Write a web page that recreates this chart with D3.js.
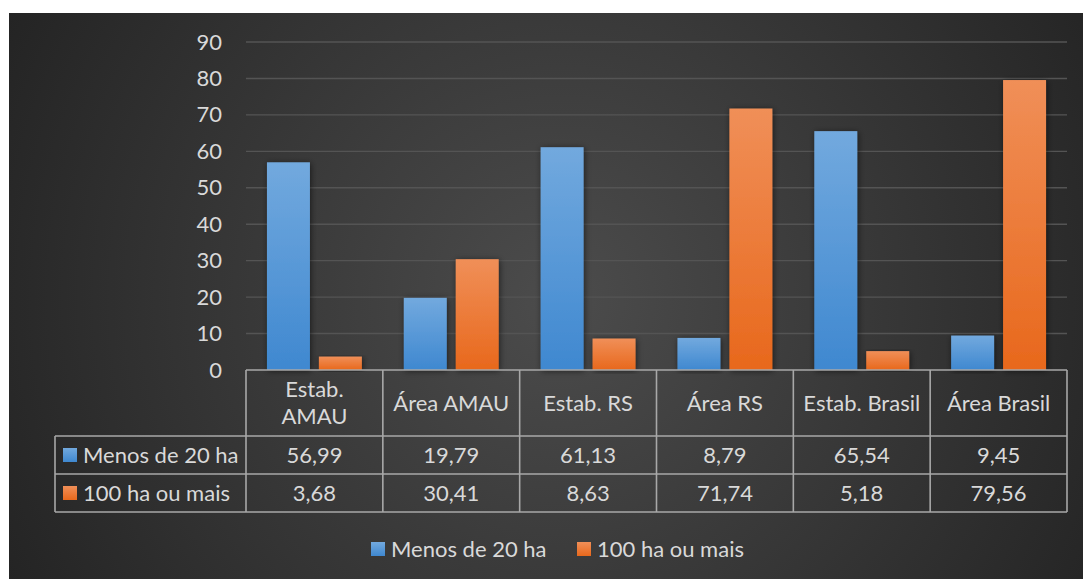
<!DOCTYPE html>
<html>
<head>
<meta charset="utf-8">
<script src="https://cdn.jsdelivr.net/npm/d3@7"></script>
<style>
  html, body { margin: 0; padding: 0; background: #fff; }
  svg { display: block; font-family: Lato, "Open Sans", sans-serif; }
</style>
</head>
<body>
<svg id="chart" width="1083" height="579"></svg>
<script>
var categories = [["Estab.", "AMAU"], ["Área AMAU"], ["Estab. RS"], ["Área RS"], ["Estab. Brasil"], ["Área Brasil"]]
var seriesNames = ["Menos de 20 ha", "100 ha ou mais"]
var menos20 = [56.99, 19.79, 61.13, 8.79, 65.54, 9.45]
var mais100 = [3.68, 30.41, 8.63, 71.74, 5.18, 79.56]
var yTicks = [0, 10, 20, 30, 40, 50, 60, 70, 80, 90]

var seriesValues = [menos20, mais100]
var colours = [["#72a9de", "#3f88d0"], ["#f08f58", "#e8681c"]]
var textColour = "#d9d9d9"
var fontSize = 22

var svg = d3.select("#chart")
var defs = svg.append("defs")

var bg = defs.append("radialGradient").attr("id", "bg")
  .attr("gradientUnits", "userSpaceOnUse")
  .attr("cx", 560).attr("cy", 300).attr("r", 620)
bg.append("stop").attr("offset", "0").attr("stop-color", "#4c4c4c")
bg.append("stop").attr("offset", "1").attr("stop-color", "#242424")

colours.forEach(function(c, i) {
  var gr = defs.append("linearGradient").attr("id", "bar" + i)
    .attr("x1", 0).attr("y1", 0).attr("x2", 0).attr("y2", 1)
  gr.append("stop").attr("offset", "0").attr("stop-color", c[0])
  gr.append("stop").attr("offset", "1").attr("stop-color", c[1])
})

var shadow = defs.append("filter").attr("id", "shadow")
  .attr("x", "-30%").attr("y", "-10%").attr("width", "160%").attr("height", "120%")
shadow.append("feDropShadow").attr("dx", 1).attr("dy", 1)
  .attr("stdDeviation", 3).attr("flood-color", "#000").attr("flood-opacity", 0.55)

svg.append("rect")
  .attr("x", 9).attr("y", 13).attr("width", 1074).attr("height", 566)
  .attr("fill", "url(#bg)")

var plot = {left: 246, right: 1067, top: 42, bottom: 370}

var x0 = d3.scaleBand()
  .domain(d3.range(categories.length))
  .range([plot.left, plot.right])

var x1 = d3.scaleBand()
  .domain(d3.range(seriesNames.length))
  .range([0, x0.bandwidth()])
  .paddingInner(0.173)
  .paddingOuter(0.404)

var y = d3.scaleLinear()
  .domain([0, 90])
  .range([plot.bottom, plot.top])

// gridlines
svg.append("g").selectAll("line")
  .data(yTicks.filter(function(d) { return d > 0 }))
  .join("line")
  .attr("x1", plot.left).attr("x2", plot.right)
  .attr("y1", function(d) { return y(d) }).attr("y2", function(d) { return y(d) })
  .attr("stroke", "#545454").attr("stroke-width", 1.4)

// y axis labels
var yAxis = svg.append("g")
  .attr("transform", "translate(" + (plot.left - 2) + ",0)")
  .call(d3.axisLeft(y).tickValues(yTicks).tickSize(0).tickPadding(22))
yAxis.select(".domain").remove()
yAxis.selectAll("text")
  .attr("fill", textColour)
  .style("font-size", fontSize + "px")
  .style("font-family", "Lato, sans-serif")

// bars
var groups = svg.append("g").selectAll("g")
  .data(categories.map(function(c, i) { return i }))
  .join("g")
  .attr("transform", function(i) { return "translate(" + x0(i) + ",0)" })

groups.selectAll("rect")
  .data(function(i) { return seriesValues.map(function(s, j) { return {j: j, v: s[i]} }) })
  .join("rect")
  .attr("x", function(d) { return x1(d.j) })
  .attr("width", x1.bandwidth())
  .attr("y", function(d) { return y(d.v) })
  .attr("height", function(d) { return y(0) - y(d.v) })
  .attr("fill", function(d) { return "url(#bar" + d.j + ")" })
  .attr("filter", "url(#shadow)")

// data table
var rowTop = [plot.bottom, 436, 474, 512]
var tableLeft = 55
var lineColour = "#a8a8a8"
var table = svg.append("g")
  .attr("stroke", lineColour).attr("stroke-width", 1.6).attr("fill", "none")

// horizontal lines
table.append("line").attr("x1", plot.left).attr("x2", plot.right)
  .attr("y1", rowTop[0]).attr("y2", rowTop[0])
rowTop.slice(1).forEach(function(yy) {
  table.append("line").attr("x1", tableLeft).attr("x2", plot.right)
    .attr("y1", yy).attr("y2", yy)
})
// vertical lines
table.append("line").attr("x1", tableLeft).attr("x2", tableLeft)
  .attr("y1", rowTop[1]).attr("y2", rowTop[3])
d3.range(categories.length + 1).forEach(function(i) {
  var xx = i < categories.length ? x0(i) : plot.right
  table.append("line").attr("x1", xx).attr("x2", xx)
    .attr("y1", rowTop[0]).attr("y2", rowTop[3])
})

var txt = svg.append("g")
  .attr("fill", textColour)
  .style("font-size", fontSize + "px")

// header
categories.forEach(function(lines, i) {
  var cx = x0(i) + x0.bandwidth() / 2
  var mid = (rowTop[0] + rowTop[1]) / 2
  var lh = 27
  lines.forEach(function(l, k) {
    txt.append("text")
      .attr("x", cx)
      .attr("y", mid + (k - (lines.length - 1) / 2) * lh)
      .attr("dy", "0.35em")
      .attr("text-anchor", "middle")
      .text(l)
  })
})

var fmt = function(v) { return d3.format(".2f")(v).replace(".", ",") }

seriesNames.forEach(function(name, j) {
  var mid = (rowTop[j + 1] + rowTop[j + 2]) / 2
  svg.append("rect")
    .attr("x", 63).attr("y", mid - 7).attr("width", 14).attr("height", 14)
    .attr("fill", "url(#bar" + j + ")")
  txt.append("text")
    .attr("x", 83).attr("y", mid).attr("dy", "0.35em")
    .text(name)
  seriesValues[j].forEach(function(v, i) {
    txt.append("text")
      .attr("x", x0(i) + x0.bandwidth() / 2)
      .attr("y", mid).attr("dy", "0.35em")
      .attr("text-anchor", "middle")
      .text(fmt(v))
  })
})

// legend
var legendX = [371, 577]
seriesNames.forEach(function(name, j) {
  svg.append("rect")
    .attr("x", legendX[j]).attr("y", 542).attr("width", 14).attr("height", 14)
    .attr("fill", "url(#bar" + j + ")")
  txt.append("text")
    .attr("x", legendX[j] + 20).attr("y", 549).attr("dy", "0.35em")
    .text(name)
})
</script>
</body>
</html>
